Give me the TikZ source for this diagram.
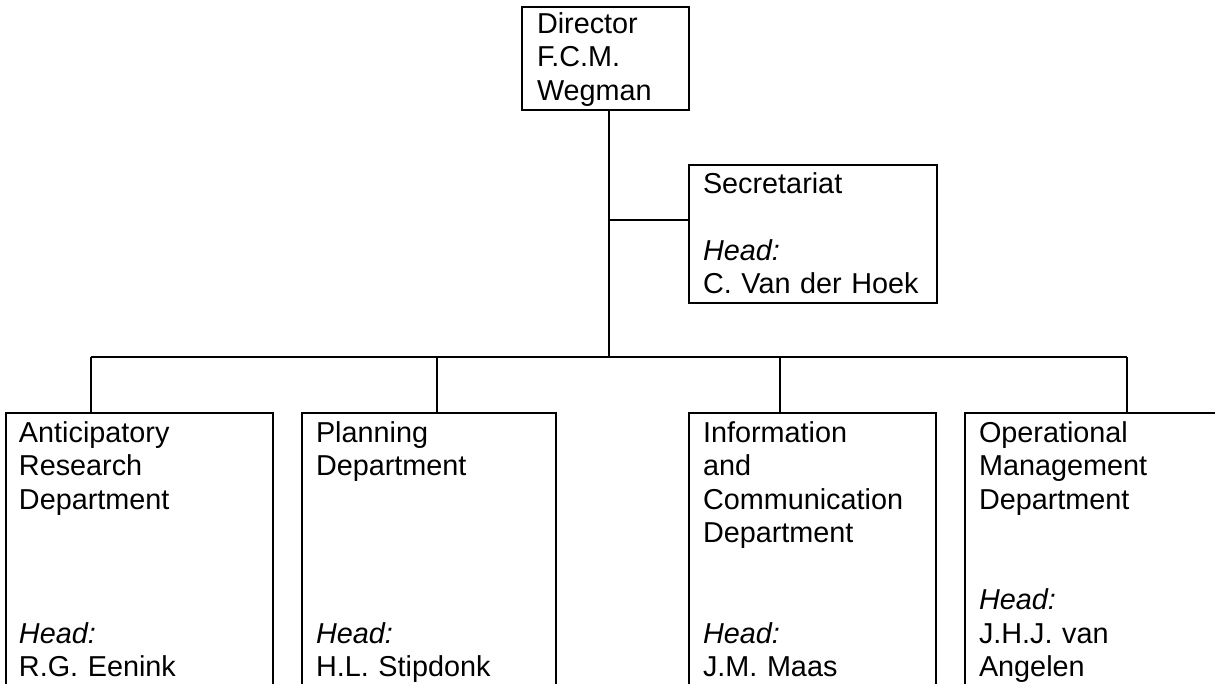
\documentclass[tikz,border=0pt]{standalone}
\usepackage{fontspec}
\setmainfont{Liberation Sans}
\begin{document}
\begin{tikzpicture}[x=1pt,y=-1pt,line width=2pt,
  box/.style={draw,anchor=north west,inner sep=0pt},
  lbl/.style={anchor=base west,inner sep=0pt,text width=300pt,align=left,
    font=\fontsize{28.8pt}{33.5pt}\selectfont}]
\path[use as bounding box,clip](0,0)rectangle(1215,683);
% director and secretariat
\node[box,minimum width=167pt,minimum height=103pt](dir)at(521,6){};
\node[lbl](dirtxt)at(536,33){Director\\F.C.M.\\Wegman};
\node[box,minimum width=248pt,minimum height=138pt](sec)at(688,164){};
\node[lbl](sectxt)at(702,193){Secretariat\\[33.5pt]\textit{Head:}\\C. Van der Hoek};
% departments
\node[box,minimum width=267pt,minimum height=330pt](ard)at(5,412){};
\node[lbl](ardtxt)at(18,442){Anticipatory\\Research\\Department\\[100.5pt]\textit{Head:}\\R.G. Eenink};
\node[box,minimum width=254pt,minimum height=330pt](plan)at(301,412){};
\node[lbl](plantxt)at(315,442){Planning\\Department\\[134pt]\textit{Head:}\\H.L. Stipdonk};
\node[box,minimum width=247pt,minimum height=330pt](info)at(688,412){};
\node[lbl](infotxt)at(702,442){Information\\and\\Communication\\Department\\[67pt]\textit{Head:}\\J.M. Maas};
\node[box,minimum width=280pt,minimum height=330pt](ops)at(964,412){};
\node[lbl](opstxt)at(978,442){Operational\\Management\\Department\\[67pt]\textit{Head:}\\J.H.J. van\\Angelen};
% connectors
\coordinate(jn)at(609,357);
\coordinate(sj)at(609,220);
\coordinate(b1)at(91,357);
\coordinate(b2)at(437,357);
\coordinate(b3)at(780,357);
\coordinate(b4)at(1127,357);
\draw(dir.south -| jn)--(jn);
\draw(sj)--(sj -| sec.west);
\draw(b1)--(b4);
\foreach \b/\n in {b1/ard,b2/plan,b3/info,b4/ops}
  \draw(\b)--(\b |- \n.north);
\end{tikzpicture}
\end{document}
